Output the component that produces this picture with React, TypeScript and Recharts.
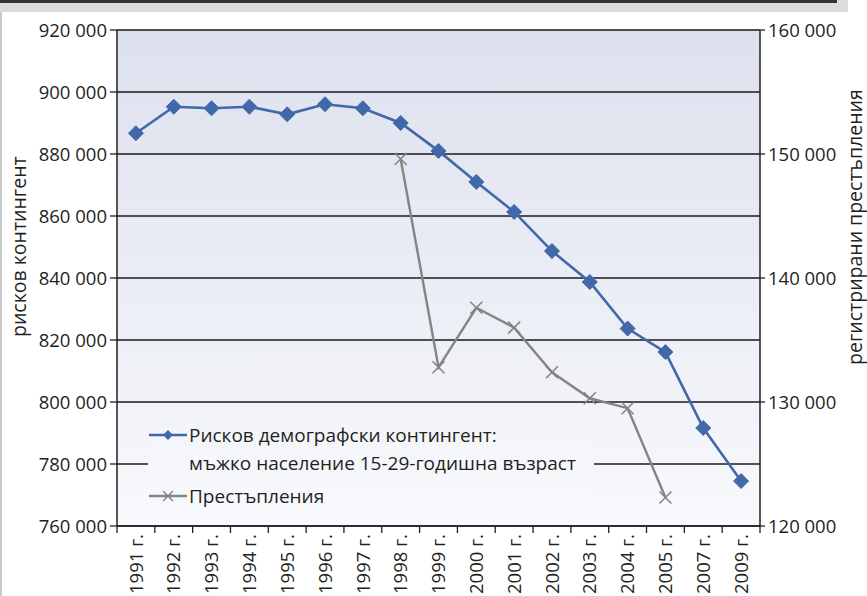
import React from 'react';
import { LineChart, Line, XAxis, YAxis, CartesianGrid, Legend } from 'recharts';

const years = [
  '1991 г.', '1992 г.', '1993 г.', '1994 г.', '1995 г.', '1996 г.', '1997 г.', '1998 г.', '1999 г.',
  '2000 г.', '2001 г.', '2002 г.', '2003 г.', '2004 г.', '2005 г.', '2007 г.', '2009 г.',
];
const riskContingent = [
  886700, 895250, 894750, 895250, 892800, 896050, 894750, 890000, 881000,
  871000, 861300, 848700, 838700, 823700, 816100, 791600, 774500,
];
const crimes: (number | null)[] = [
  null, null, null, null, null, null, null, 149600, 132800,
  137600, 136000, 132400, 130300, 129500, 122300, null, null,
];
const leftTicks = [760000, 780000, 800000, 820000, 840000, 860000, 880000, 900000, 920000];
const rightTicks = [120000, 130000, 140000, 150000, 160000];

const seriesNames = {
  risk1: 'Рисков демографски контингент:',
  risk2: 'мъжко население 15-29-годишна възраст',
  crimes: 'Престъпления',
};
const leftTitle = 'рисков контингент';
const rightTitle = 'регистрирани престъпления';

const data = years.map((y, i) => ({ year: y, risk: riskContingent[i], crimes: crimes[i] }));

const FONT = '"Open Sans", "Noto Sans", sans-serif';
const TEXT = '#231f20';
const BLUE = '#4168a8';
const GRAY = '#848484';
const HALF_BAND = 643 / 17 / 2;

const fmt = (v: number) => String(v).replace(/\B(?=(\d{3})+(?!\d))/g, ' ');

const Diamond = (props: any) => {
  const { cx, cy } = props;
  if (cx == null || cy == null) return null;
  const r = 7.5;
  return (
    <polygon
      points={`${cx},${cy - r} ${cx + r},${cy} ${cx},${cy + r} ${cx - r},${cy}`}
      fill={BLUE}
      stroke={BLUE}
      strokeWidth={1}
    />
  );
};

const Cross = (props: any) => {
  const { cx, cy } = props;
  if (cx == null || cy == null) return null;
  const r = 6;
  return (
    <g stroke={GRAY} strokeWidth={1.6}>
      <line x1={cx - r} y1={cy - r} x2={cx + r} y2={cy + r} />
      <line x1={cx - r} y1={cy + r} x2={cx + r} y2={cy - r} />
    </g>
  );
};

const XTick = (props: any) => {
  const { x, y, payload, index, visibleTicksCount } = props;
  const half = HALF_BAND;
  const last = index === (visibleTicksCount ?? years.length) - 1;
  const ty = y + 8;
  return (
    <g>
      <line x1={x - half} y1={y} x2={x - half} y2={y + 7} stroke={TEXT} strokeWidth={1.3} />
      {last && <line x1={x + half} y1={y} x2={x + half} y2={y + 7} stroke={TEXT} strokeWidth={1.3} />}
      <text
        x={x}
        y={ty}
        transform={`rotate(-90, ${x}, ${ty})`}
        textAnchor="end"
        dy="0.36em"
        fill={TEXT}
        fontSize={18.5}
        fontFamily={FONT}
      >
        {payload.value}
      </text>
    </g>
  );
};

const LegendBox = () => (
  <div style={{ fontFamily: FONT, fontSize: 19, color: TEXT, paddingTop: 11, whiteSpace: 'nowrap' }}>
    <div style={{ display: 'flex', alignItems: 'center', height: 28 }}>
      <svg width={41} height={16} style={{ flex: 'none' }}>
        <line x1={1} y1={8} x2={39} y2={8} stroke={BLUE} strokeWidth={2.5} />
        <polygon points="20,3 25,8 20,13 15,8" fill={BLUE} />
      </svg>
      <span>{seriesNames.risk1}</span>
    </div>
    <div style={{ height: 28, lineHeight: '28px', paddingLeft: 41 }}>{seriesNames.risk2}</div>
    <div style={{ display: 'flex', alignItems: 'center', height: 28, marginTop: 5 }}>
      <svg width={41} height={16} style={{ flex: 'none' }}>
        <line x1={1} y1={8} x2={39} y2={8} stroke={GRAY} strokeWidth={2.5} />
        <g stroke={GRAY} strokeWidth={1.5}>
          <line x1={15} y1={3} x2={25} y2={13} />
          <line x1={15} y1={13} x2={25} y2={3} />
        </g>
      </svg>
      <span>{seriesNames.crimes}</span>
    </div>
  </div>
);

export default function App() {
  return (
    <div style={{ position: 'absolute', left: 0, top: 0, width: 867, height: 596, background: '#fff', overflow: 'hidden' }}>
      <div style={{ position: 'absolute', left: 0, top: 0, width: 848, height: 12, background: '#dcdcdc' }} />
      <div style={{ position: 'absolute', left: 0, top: 0, width: 837, height: 3, background: '#333' }} />
      <div style={{ position: 'absolute', left: 0, top: 12, width: 2, height: 584, background: '#c8c8c8' }} />
      <div style={{ position: 'absolute', left: 0, top: 0 }}>
        <LineChart width={867} height={596} data={data} margin={{ top: 30, right: 0, bottom: 0, left: 0 }}>
          <defs>
            <linearGradient id="plotBg" x1="0" y1="0" x2="0" y2="1">
              <stop offset="0%" stopColor="#dde1ee" />
              <stop offset="100%" stopColor="#f8f9fc" />
            </linearGradient>
          </defs>
          <CartesianGrid
            yAxisId="left"
            vertical={false}
            stroke="#1a1a1a"
            strokeWidth={1.3}
            fill="url(#plotBg)"
            fillOpacity={1}
          />
          <XAxis
            dataKey="year"
            height={70}
            interval={0}
            padding={{ left: HALF_BAND, right: HALF_BAND }}
            tickLine={false}
            tickSize={0}
            tickMargin={0}
            axisLine={{ stroke: TEXT, strokeWidth: 1.5 }}
            tick={<XTick />}
          />
          <YAxis
            yAxisId="left"
            width={117}
            domain={[760000, 920000]}
            ticks={leftTicks}
            interval={0}
            tickFormatter={fmt}
            tickSize={7}
            tickMargin={3}
            axisLine={{ stroke: TEXT, strokeWidth: 1.5 }}
            tickLine={{ stroke: TEXT, strokeWidth: 1.3 }}
            tick={{ fill: TEXT, fontSize: 18.5, fontFamily: FONT }}
            label={{
              content: () => (
                <text
                  x={19}
                  y={337}
                  transform="rotate(-90, 19, 337)"
                  textAnchor="start"
                  dy="0.36em"
                  fill={TEXT}
                  fontSize={19.5}
                  fontFamily={FONT}
                >
                  {leftTitle}
                </text>
              ),
            }}
          />
          <YAxis
            yAxisId="right"
            orientation="right"
            width={107}
            domain={[120000, 160000]}
            ticks={rightTicks}
            interval={0}
            tickFormatter={fmt}
            tickSize={5}
            tickMargin={3}
            axisLine={{ stroke: TEXT, strokeWidth: 1.5 }}
            tickLine={{ stroke: TEXT, strokeWidth: 1.3 }}
            tick={{ fill: TEXT, fontSize: 18.5, fontFamily: FONT }}
            label={{
              content: () => (
                <text
                  x={855}
                  y={365}
                  transform="rotate(-90, 855, 365)"
                  textAnchor="start"
                  dy="0.36em"
                  fill={TEXT}
                  fontSize={19.5}
                  fontFamily={FONT}
                >
                  {rightTitle}
                </text>
              ),
            }}
          />
          <Legend
            layout="vertical"
            align="center"
            verticalAlign="middle"
            content={<LegendBox />}
            wrapperStyle={{
              left: 148,
              top: 410,
              width: 446,
              height: 106,
              background: 'linear-gradient(#f2f4f9, #f8f9fc)',
            }}
          />
          <Line
            yAxisId="left"
            type="linear"
            dataKey="risk"
            name={seriesNames.risk1}
            stroke={BLUE}
            strokeWidth={2.6}
            dot={<Diamond />}
            activeDot={false}
            isAnimationActive={false}
          />
          <Line
            yAxisId="right"
            type="linear"
            dataKey="crimes"
            name={seriesNames.crimes}
            stroke={GRAY}
            strokeWidth={2.4}
            dot={<Cross />}
            activeDot={false}
            isAnimationActive={false}
          />
        </LineChart>
      </div>
    </div>
  );
}
